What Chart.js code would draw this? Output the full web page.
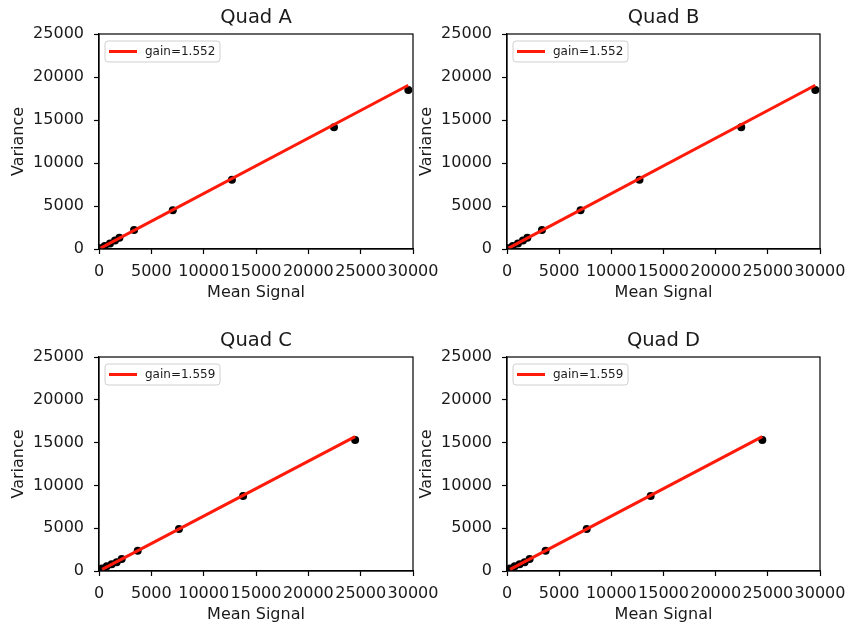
<!DOCTYPE html>
<html>
<head>
<meta charset="utf-8">
<script src="https://cdn.jsdelivr.net/npm/chart.js@4/dist/chart.umd.min.js"></script>
<style>
  html, body { margin: 0; padding: 0; background: #fff; }
  #wrap { position: relative; width: 848px; height: 626px; }
  #wrap canvas { position: absolute; left: 0; top: 0; }
</style>
</head>
<body>
<div id="wrap">
  <canvas id="quadA" width="848" height="626"></canvas>
  <canvas id="quadB" width="848" height="626"></canvas>
  <canvas id="quadC" width="848" height="626"></canvas>
  <canvas id="quadD" width="848" height="626"></canvas>
</div>
<script>
// Photon-transfer measurements per readout quadrant: mean signal vs variance
const quadNames = ['Quad A', 'Quad B', 'Quad C', 'Quad D'];
const quadGains = [1.552, 1.552, 1.559, 1.559];

const quadAMean = [150, 550, 1050, 1530, 1950, 3350, 7050, 12700, 22450, 29550];
const quadAVar  = [100, 350, 650, 1000, 1300, 2200, 4520, 8050, 14150, 18500];
const quadBMean = [150, 550, 1050, 1530, 1950, 3350, 7050, 12700, 22450, 29550];
const quadBVar  = [100, 350, 650, 1000, 1300, 2200, 4520, 8050, 14150, 18500];
const quadCMean = [300, 740, 1210, 1690, 2170, 3700, 7640, 13770, 24470];
const quadCVar  = [300, 550, 780, 1020, 1400, 2370, 4900, 8760, 15300];
const quadDMean = [300, 740, 1210, 1690, 2170, 3700, 7640, 13770, 24470];
const quadDVar  = [300, 550, 780, 1020, 1400, 2370, 4900, 8760, 15300];

const xTickValues = [0, 5000, 10000, 15000, 20000, 25000, 30000];
const yTickValues = [0, 5000, 10000, 15000, 20000, 25000];

const FONT = "'DejaVu Sans', sans-serif";
const TEXT = '#1a1a1a';

// Frame, panel title and boxed legend drawn on top of each panel
const panelDecor = {
  id: 'panelDecor',
  afterDraw(chart, args, opts) {
    const { ctx, chartArea: a } = chart;
    ctx.save();
    // full axes frame
    ctx.strokeStyle = '#000';
    ctx.lineWidth = 1.2;
    ctx.strokeRect(a.left, a.top, a.right - a.left, a.bottom - a.top);
    // title
    ctx.fillStyle = TEXT;
    ctx.font = "19.5px " + FONT;
    ctx.textAlign = 'center';
    ctx.textBaseline = 'middle';
    ctx.fillText(opts.title, (a.left + a.right) / 2, a.top - 16);
    // legend
    const ds = chart.data.datasets[1];
    const bx = a.left + 6, by = a.top + 7, bw = 115, bh = 21, r = 3;
    ctx.beginPath();
    ctx.moveTo(bx + r, by);
    ctx.arcTo(bx + bw, by, bx + bw, by + bh, r);
    ctx.arcTo(bx + bw, by + bh, bx, by + bh, r);
    ctx.arcTo(bx, by + bh, bx, by, r);
    ctx.arcTo(bx, by, bx + bw, by, r);
    ctx.closePath();
    ctx.fillStyle = 'rgba(255,255,255,0.8)';
    ctx.fill();
    ctx.strokeStyle = '#d0d0d0';
    ctx.lineWidth = 1;
    ctx.stroke();
    const my = by + bh / 2;
    ctx.beginPath();
    ctx.moveTo(bx + 4, my);
    ctx.lineTo(bx + 32, my);
    ctx.strokeStyle = ds.borderColor;
    ctx.lineWidth = 3;
    ctx.stroke();
    ctx.fillStyle = TEXT;
    ctx.font = "12px " + FONT;
    ctx.textAlign = 'left';
    ctx.fillText(ds.label, bx + 40, my + 0.5);
    ctx.restore();
  }
};

function makePanel(canvasId, title, gain, xs, ys, pad) {
  const points = xs.map((x, i) => ({ x: x, y: ys[i] }));
  const x0 = xs[0], x1 = xs[xs.length - 1];
  // fitted variance = mean / gain
  const fit = [{ x: x0, y: x0 / gain }, { x: x1, y: x1 / gain }];
  const tickFont = { family: FONT, size: 16 };
  const axisGrid = { display: true, drawOnChartArea: false, drawTicks: true, tickLength: 5, tickColor: '#000', tickWidth: 1.2 };
  return new Chart(document.getElementById(canvasId), {
    type: 'scatter',
    data: {
      datasets: [
        {
          label: 'data',
          data: points,
          backgroundColor: '#000',
          borderColor: '#000',
          pointRadius: 4,
          pointBorderWidth: 0,
          order: 2
        },
        {
          type: 'line',
          label: 'gain=' + gain.toFixed(3),
          data: fit,
          borderColor: '#ff1a0a',
          borderWidth: 3,
          pointRadius: 0,
          fill: false,
          order: 1
        }
      ]
    },
    options: {
      responsive: false,
      animation: false,
      events: [],
      layout: { padding: pad },
      plugins: {
        legend: { display: false },
        tooltip: { enabled: false },
        title: { display: false },
        panelDecor: { title: title }
      },
      scales: {
        x: {
          type: 'linear',
          min: 0, max: 30000,
          grid: axisGrid,
          border: { display: true, color: '#000', width: 1.2 },
          afterBuildTicks(s) { s.ticks = xTickValues.map(v => ({ value: v })); },
          afterFit(s) { s.height = 53; s.paddingLeft = 0; s.paddingRight = 0; },
          ticks: {
            color: TEXT, font: tickFont, padding: 8,
            maxRotation: 0, minRotation: 0, autoSkip: false,
            callback: v => String(v)
          },
          title: { display: true, text: 'Mean Signal', color: TEXT, font: { family: FONT, size: 16 }, padding: 0 }
        },
        y: {
          type: 'linear',
          min: 0, max: 25000,
          grid: axisGrid,
          border: { display: true, color: '#000', width: 1.2 },
          afterBuildTicks(s) { s.ticks = yTickValues.map(v => ({ value: v })); },
          afterFit(s) { s.width = 90; s.paddingTop = 0; s.paddingBottom = 0; },
          ticks: {
            color: TEXT, font: tickFont, padding: 10,
            autoSkip: false,
            callback: v => String(v)
          },
          title: { display: true, text: 'Variance', color: TEXT, font: { family: FONT, size: 16 }, padding: 0 }
        }
      }
    },
    plugins: [panelDecor]
  });
}

makePanel('quadA', quadNames[0], quadGains[0], quadAMean, quadAVar, { left: 9, top: 34, right: 435, bottom: 324 });
makePanel('quadB', quadNames[1], quadGains[1], quadBMean, quadBVar, { left: 417, top: 34, right: 28, bottom: 324 });
makePanel('quadC', quadNames[2], quadGains[2], quadCMean, quadCVar, { left: 9, top: 357, right: 435, bottom: 2 });
makePanel('quadD', quadNames[3], quadGains[3], quadDMean, quadDVar, { left: 417, top: 357, right: 28, bottom: 2 });
</script>
</body>
</html>
